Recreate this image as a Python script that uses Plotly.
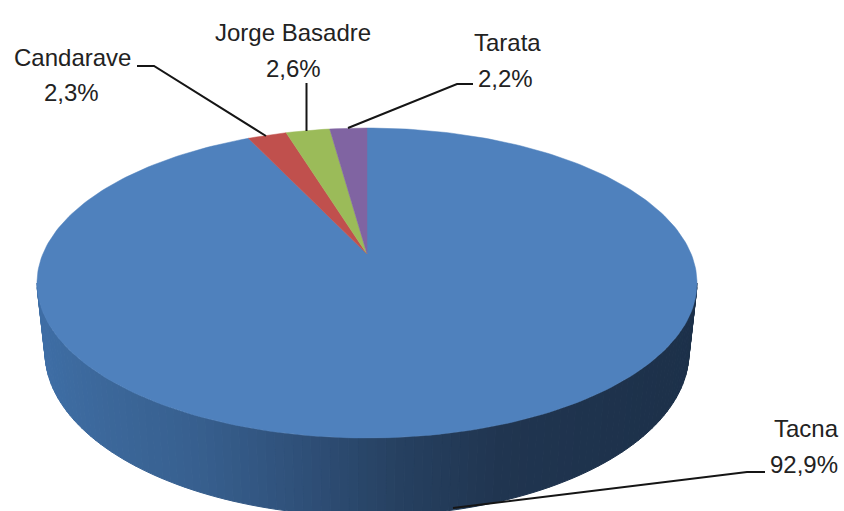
import math
import plotly.graph_objects as go

# Data
categories = ["Tacna", "Candarave", "Jorge Basadre", "Tarata"]
values = [92.9, 2.3, 2.6, 2.2]
value_labels = ["92,9%", "2,3%", "2,6%", "2,2%"]
colors = ["#4f81bd", "#c0504d", "#9bbb59", "#8064a2"]

# Pie geometry, in page pixels
W, H = 844, 511
CX, CY, RX, RY = 367, 283, 330, 155          # top face ellipse
BCY, BRX, BRY = 352, 322, 164                # bottom rim ellipse
AX, AY = 367, 254                            # perspective centre of the slices
STRETCH_X, STRETCH_Y = 270, 126

# Shading of the side wall, by horizontal position
wall_stops = [(37, (62, 110, 166)), (100, (60, 104, 155)), (200, (55, 95, 142)),
              (300, (47, 80, 121)), (400, (38, 64, 96)), (500, (32, 53, 80)),
              (700, (28, 48, 73))]


def wall_colour(x):
    for (x0, c0), (x1, c1) in zip(wall_stops, wall_stops[1:]):
        if x <= x1:
            t = max(0, (x - x0) / (x1 - x0))
            return "rgb(%d,%d,%d)" % tuple(round(a + (b - a) * t) for a, b in zip(c0, c1))
    return "rgb(%d,%d,%d)" % wall_stops[-1][1]


def rim_point(theta):
    """Where the ray from the slice centre at pie angle theta meets the top ellipse."""
    dx, dy = STRETCH_X * math.sin(theta), -STRETCH_Y * math.cos(theta)
    ox, oy = AX - CX, AY - CY
    a = (dx / RX) ** 2 + (dy / RY) ** 2
    b = 2 * (ox * dx / RX ** 2 + oy * dy / RY ** 2)
    c = (ox / RX) ** 2 + (oy / RY) ** 2 - 1
    t = (-b + math.sqrt(b * b - 4 * a * c)) / (2 * a)
    return AX + t * dx, AY + t * dy


fig = go.Figure()


def poly(xs, ys, colour):
    fig.add_trace(go.Scatter(x=xs, y=ys, mode="lines", fill="toself", fillcolor=colour,
                             line=dict(color=colour, width=1), hoverinfo="skip", showlegend=False))


# Side wall
N = 110
for i in range(N):
    p0, p1 = math.pi * i / N, math.pi * (i + 1) / N
    xs = [CX + RX * math.cos(p0), CX + RX * math.cos(p1), CX + BRX * math.cos(p1), CX + BRX * math.cos(p0)]
    ys = [CY + RY * math.sin(p0), CY + RY * math.sin(p1), BCY + BRY * math.sin(p1), BCY + BRY * math.sin(p0)]
    poly(xs + xs[:1], ys + ys[:1], wall_colour(sum(xs) / 4))

# Top face: the slices, clockwise from twelve o'clock
total = sum(values)
start = 0.0
for name, value, colour in zip(categories, values, colors):
    end = start + value / total * 2 * math.pi
    steps = max(4, int(value * 3))
    pts = [rim_point(start + (end - start) * k / steps) for k in range(steps + 1)]
    xs = [AX] + [p[0] for p in pts] + [AX]
    ys = [AY] + [p[1] for p in pts] + [AY]
    fig.add_trace(go.Scatter(x=xs, y=ys, mode="lines", fill="toself", fillcolor=colour,
                             line=dict(color=colour, width=0.5), name=name, hoverinfo="name",
                             showlegend=False))
    start = end

# Label placement: centre x, name y, value y
label_pos = {
    "Tacna": (806, 428, 464),
    "Candarave": (72, 57, 92),
    "Jorge Basadre": (293, 32, 68),
    "Tarata": (507, 42, 78),
}
value_x = {"Tarata": 505, "Jorge Basadre": 293, "Candarave": 71, "Tacna": 804}

annotations = []
for name, lab in zip(categories, value_labels):
    x, y1, y2 = label_pos[name]
    annotations.append(dict(x=x, y=y1, text=name, showarrow=False, xanchor="center", yanchor="middle",
                            font=dict(family="Liberation Sans", size=24, color="#222222")))
    annotations.append(dict(x=value_x[name], y=y2, text=lab, showarrow=False, xanchor="center", yanchor="middle",
                            font=dict(family="Liberation Sans", size=24, color="#222222")))

leaders = [
    "M137,66 L154,66 L266,136",
    "M306.5,83 L306.5,131",
    "M473,84 L457,84 L348,128",
    "M765,472 L747,472 L453,508",
]
shapes = [dict(type="path", path=p, xref="x", yref="y", line=dict(color="#151515", width=2)) for p in leaders]

fig.update_layout(
    width=W, height=H, margin=dict(l=0, r=0, t=0, b=0),
    paper_bgcolor="white", plot_bgcolor="white", showlegend=False,
    xaxis=dict(range=[0, W], visible=False, fixedrange=True),
    yaxis=dict(range=[H, 0], visible=False, fixedrange=True),
    annotations=annotations, shapes=shapes,
)
fig.write_html("out.html", config=dict(displayModeBar=False),
               post_script="document.body.style.margin='0';document.body.style.overflow='hidden';")
